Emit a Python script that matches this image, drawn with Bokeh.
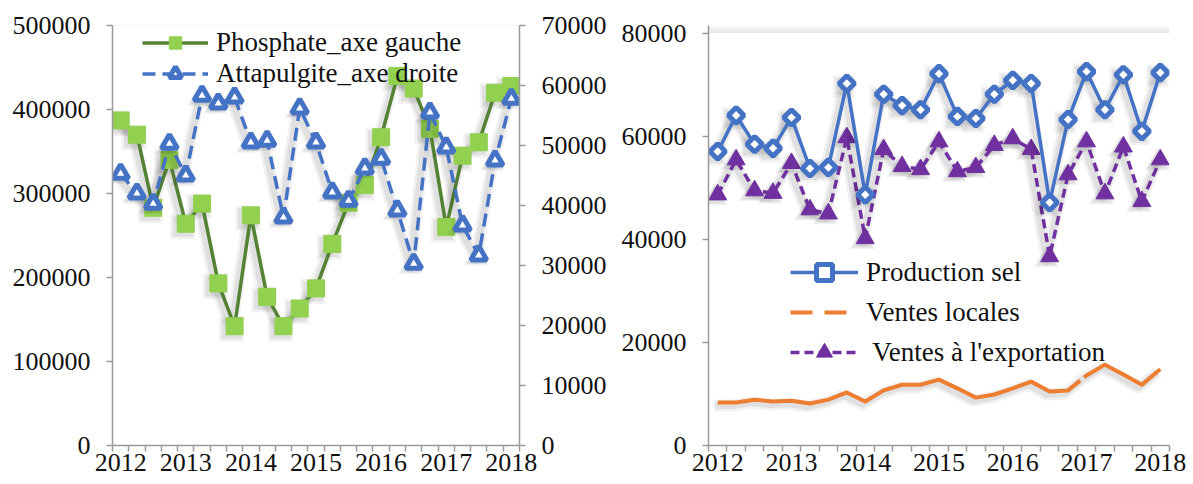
from bokeh.plotting import figure
from bokeh.layouts import row
from bokeh.models import (Range1d, LinearAxis, FixedTicker, SingleIntervalTicker,
                          BasicTickFormatter, Legend, LegendItem, Span)
from bokeh.embed import file_html
from bokeh.resources import INLINE

# Quarterly series, 2012 Q1 .. 2018 Q1
years = ["2012", "2013", "2014", "2015", "2016", "2017", "2018"]
quarters = list(range(25))

phosphate = [387000, 370000, 283000, 340000, 264000, 288000, 193000, 142000,
             274000, 177000, 142000, 163000, 187000, 240000, 289000, 310000,
             367000, 440000, 425000, 377000, 260000, 345000, 361000, 420000,
             428000]
attapulgite = [45300, 42000, 40300, 50300, 45000, 58300, 57000, 58000,
               50500, 50800, 38000, 56200, 50500, 42200, 40800, 46200,
               47800, 39200, 30300, 55500, 49700, 36700, 31700, 47500,
               57800]

production_sel = [57100, 64100, 58500, 57700, 63700, 53800, 54000, 70300,
                  48700, 68200, 66000, 65200, 72200, 63900, 63500, 68200,
                  70900, 70300, 47200, 63300, 72600, 65200, 72000, 61000,
                  72400]
ventes_locales = [8350, 8350, 8900, 8550, 8700, 8150, 8900, 10300,
                  8550, 10700, 11800, 11800, 12800, 11100, 9300, 9900,
                  11100, 12400, 10500, 10700, 13600, 15700, 13800, 11800,
                  14800]
ventes_export = [48700, 55500, 49500, 49000, 54800, 45800, 45000, 59800,
                 40200, 57500, 54200, 53600, 59000, 53200, 54000, 58300,
                 59600, 57500, 36700, 52600, 59000, 48900, 58000, 47400,
                 55500]

FONT = "'Liberation Serif'"
AXIS_GRAY = "#9a9a9a"
TEXT = "#111111"

GREEN_LINE = "#548235"
GREEN_MARK = "#92D050"
BLUE = "#4472C4"
ORANGE = "#ED7D31"
PURPLE = "#7030A0"

FRAME_TOP = 25
FRAME_BOTTOM = 445
PAGE_H = 484


def style_y_axis(axis, interval):
    axis.ticker = SingleIntervalTicker(interval=interval)
    axis.formatter = BasicTickFormatter(use_scientific=False)
    axis.axis_line_color = AXIS_GRAY
    axis.axis_line_width = 1.5
    axis.major_tick_line_color = AXIS_GRAY
    axis.major_tick_line_width = 1.5
    axis.major_tick_out = 6
    axis.major_tick_in = 0
    axis.minor_tick_line_color = None
    axis.major_label_standoff = 16
    axis.major_label_text_font = FONT
    axis.major_label_text_font_size = "26px"
    axis.major_label_text_color = TEXT


def style_x_axis(axis):
    axis.ticker = FixedTicker(ticks=[4 * i for i in range(len(years))],
                              minor_ticks=[q - 0.5 for q in quarters] + [quarters[-1] + 0.5])
    axis.major_label_overrides = {4 * i: y for i, y in enumerate(years)}
    axis.axis_line_color = AXIS_GRAY
    axis.axis_line_width = 1.5
    axis.major_tick_line_color = None
    axis.major_tick_out = 6
    axis.major_tick_in = 0
    axis.minor_tick_line_color = AXIS_GRAY
    axis.minor_tick_line_width = 1.5
    axis.minor_tick_out = 6
    axis.minor_tick_in = 0
    axis.major_label_standoff = 2
    axis.major_label_text_font = FONT
    axis.major_label_text_font_size = "26px"
    axis.major_label_text_color = TEXT


def make_figure(width, ymax, left, right):
    p = figure(width=width, height=PAGE_H, output_backend="svg", toolbar_location=None,
               x_range=Range1d(-0.5, 24.5), y_range=Range1d(0, ymax),
               min_border_left=left, min_border_right=right,
               min_border_top=FRAME_TOP, min_border_bottom=PAGE_H - FRAME_BOTTOM,
               background_fill_color="white", border_fill_color="white")
    p.outline_line_color = None
    p.xgrid.visible = False
    p.ygrid.visible = False
    return p


def shadow(p, ys, px_per_cat, px_per_unit, marker, size, y_range_name="default"):
    """Soft grey drop shadow under a series, shifted a few pixels left/down."""
    xs = [q - 3.0 / px_per_cat for q in quarters]
    ys_s = [v - 3.0 / px_per_unit for v in ys]
    for w, a in ((12, 0.05), (7, 0.07)):
        p.line(xs, ys_s, y_range_name=y_range_name, line_color="black",
               line_alpha=a, line_width=w, line_join="round")
        if marker:
            p.scatter(xs, ys_s, y_range_name=y_range_name, marker=marker, size=size + w - 4,
                      fill_color="black", fill_alpha=a, line_color=None)


def area_shadow(p, top_value, px_per_cat, px_per_unit):
    """Blurred edge shadow to the left of the value axis and above the plot area."""
    for k in range(1, 10):
        a = 0.10 * (1 - k / 10.0)
        p.add_layout(Span(location=-0.5 - k / px_per_cat, dimension="height",
                          line_color="black", line_alpha=a, line_width=1))
        p.add_layout(Span(location=top_value + k / px_per_unit, dimension="width",
                          line_color="black", line_alpha=a, line_width=1))


# ---- left panel: phosphate (left axis) and attapulgite (right axis) ----
left = make_figure(612, 500000, 112, 93)
left.extra_y_ranges = {"droite": Range1d(0, 70000)}
style_y_axis(left.yaxis[0], 100000)
style_x_axis(left.xaxis[0])
right_axis = LinearAxis(y_range_name="droite")
style_y_axis(right_axis, 10000)
left.add_layout(right_axis, "right")

L_PX_CAT = 407 / 25.0
L_PX_UNIT = 420 / 500000.0
area_shadow(left, 500000 - 1 / L_PX_UNIT, L_PX_CAT, L_PX_UNIT)

shadow(left, phosphate, L_PX_CAT, L_PX_UNIT, "square", 17)
ph_line = left.line(quarters, phosphate, line_color=GREEN_LINE, line_width=3.5,
                    line_join="round")
ph_mark = left.scatter(quarters, phosphate, marker="square", size=17,
                       fill_color=GREEN_MARK, line_color=GREEN_MARK, line_width=1)

shadow(left, attapulgite, L_PX_CAT, 420 / 70000.0, "triangle", 17, "droite")
at_line = left.line(quarters, attapulgite, y_range_name="droite", line_color=BLUE,
                    line_width=3.5, line_dash="13 7")
at_mark = left.scatter(quarters, attapulgite, y_range_name="droite", marker="triangle",
                       size=16, fill_color="white", line_color=BLUE, line_width=5)

left_legend = Legend(items=[
    LegendItem(label="Phosphate_axe gauche", renderers=[ph_line, ph_mark]),
    LegendItem(label="Attapulgite_axe droite", renderers=[at_line, at_mark]),
], location=(30, 356), margin=0, padding=0, spacing=0,
    glyph_width=66, glyph_height=31, label_height=31, label_standoff=8,
    label_text_font=FONT, label_text_font_size="27px", label_text_color=TEXT,
    background_fill_alpha=0, border_line_color=None)
left.add_layout(left_legend)

# ---- right panel: salt production and sales ----
# value axis 0..80000 spans 412 px; the frame is a little taller above 80000
R_PX_UNIT = 412 / 80000.0
right = make_figure(581, (FRAME_BOTTOM - FRAME_TOP) / R_PX_UNIT, 96, 24)
style_y_axis(right.yaxis[0], 20000)
style_x_axis(right.xaxis[0])
R_PX_CAT = 461 / 25.0
area_shadow(right, 80000, R_PX_CAT, R_PX_UNIT)

shadow(right, ventes_locales, R_PX_CAT, R_PX_UNIT, None, 0)
vl_line = right.line(quarters, ventes_locales, line_color=ORANGE, line_width=4,
                     line_dash="384 5", line_join="round")
vl_key = right.line(quarters, [float("nan")] * len(quarters), line_color=ORANGE,
                    line_width=4, line_dash="22 12")

shadow(right, ventes_export, R_PX_CAT, R_PX_UNIT, "triangle", 18)
ve_line = right.line(quarters, ventes_export, line_color=PURPLE, line_width=3.5,
                     line_dash="9 5")
ve_mark = right.scatter(quarters, ventes_export, marker="triangle", size=18,
                        fill_color=PURPLE, line_color=PURPLE, line_width=1)

shadow(right, production_sel, R_PX_CAT, R_PX_UNIT, "square", 14)
ps_line = right.line(quarters, production_sel, line_color=BLUE, line_width=3.5,
                     line_join="round")
ps_mark = right.scatter(quarters, production_sel, marker="square", angle=0.785398,
                        size=11, fill_color="white", line_color=BLUE, line_width=5)

right_legend = Legend(items=[
    LegendItem(label="Production sel", renderers=[ps_line, ps_mark]),
    LegendItem(label="Ventes locales", renderers=[vl_key]),
    LegendItem(label=" Ventes à l'exportation", renderers=[ve_line, ve_mark]),
], location=(82, 73), margin=0, padding=0, spacing=0,
    glyph_width=68, glyph_height=40, label_height=40, label_standoff=8,
    label_text_font=FONT, label_text_font_size="27px", label_text_color=TEXT,
    background_fill_alpha=0, border_line_color=None)
right.add_layout(right_legend)

page = row(left, right)
open("out.html", "w").write(file_html(page, INLINE))
